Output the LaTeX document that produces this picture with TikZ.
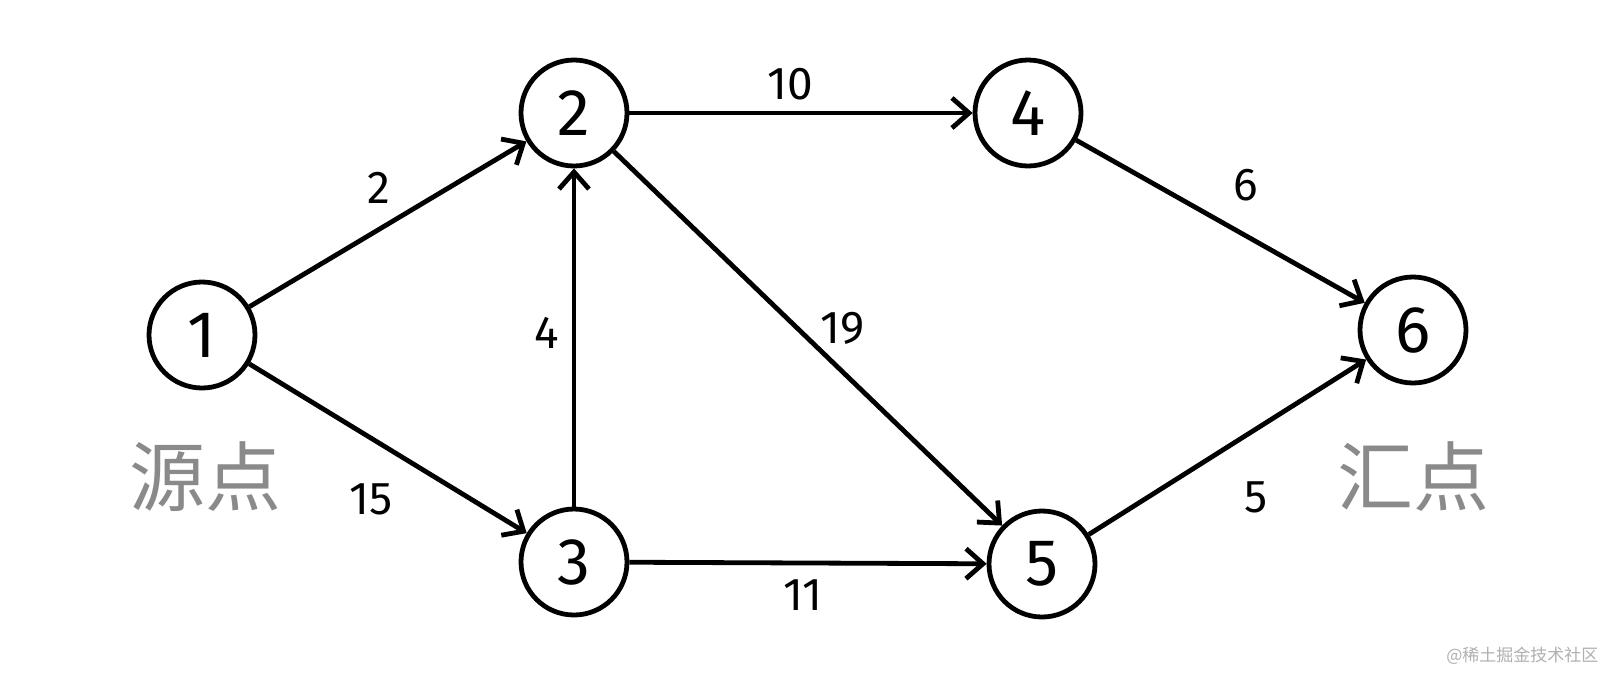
\documentclass[tikz,border=0pt]{standalone}
\usepackage{fontspec}
\setmainfont{Fira Sans}
\newfontfamily\cjk{Noto Sans CJK SC}
\usetikzlibrary{arrows.meta}
\definecolor{labgray}{HTML}{8A8A8A}
\definecolor{wmgray}{HTML}{B0B0B0}
\begin{document}
\begin{tikzpicture}[x=1pt,y=-1pt,
  vertex/.style={circle,draw,line width=4.8pt,minimum size=106pt,inner sep=0pt,font=\fontsize{66}{66}\selectfont},
  edge/.style={line width=4.8pt,-{Straight Barb[length=17pt,width=30pt,line width=4.8pt]}},
  wlabel/.style={font=\fontsize{46}{46}\selectfont},
  cnlabel/.style={text=labgray,font=\cjk\fontsize{76}{76}\selectfont}]
\fill[white] (0,0) rectangle (1608,675);
\useasboundingbox (0,0) rectangle (1608,675);
\node[vertex] (n1) at (202,335) {1};
\node[vertex] (n2) at (574,113) {2};
\node[vertex] (n3) at (574,562) {3};
\node[vertex] (n4) at (1028,113) {4};
\node[vertex] (n5) at (1042,564) {5};
\node[vertex] (n6) at (1413,330) {6};
\draw[edge] (n1) -- (n2);
\draw[edge] (n1) -- (n3);
\draw[edge] (n3) -- (n2);
\draw[edge] (n2) -- (n4);
\draw[edge] (n2) -- (n5);
\draw[edge] (n3) -- (n5);
\draw[edge] (n4) -- (n6);
\draw[edge] (n5) -- (n6);
\node[wlabel] (l12) at (379,188) {2};
\node[wlabel] (l13) at (371,499) {15};
\node[wlabel] (l32) at (547,333) {4};
\node[wlabel] (l24) at (790,84) {10};
\node[wlabel] (l25) at (843,328) {19};
\node[wlabel] (l35) at (803,595) {11};
\node[wlabel] (l46) at (1246,185) {6};
\node[wlabel] (l56) at (1256,497) {5};
\node[cnlabel] (src) at (205,477) {源点};
\node[cnlabel] (snk) at (1413,477) {汇点};
\node[text=wmgray,font=\cjk\fontsize{17}{17}\selectfont,anchor=east] (wm) at (1602,656) {@稀土掘金技术社区};
\end{tikzpicture}
\end{document}
